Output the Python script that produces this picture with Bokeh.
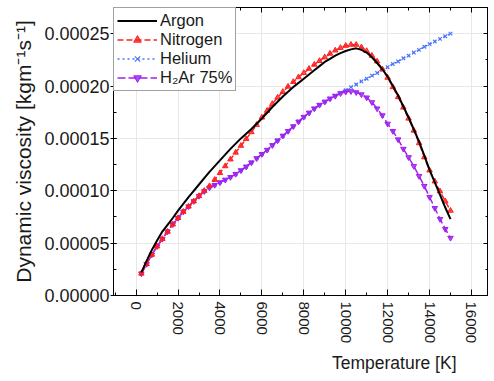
from bokeh.plotting import figure
from bokeh.models import (Range1d, LinearAxis, SingleIntervalTicker, PrintfTickFormatter,
                          Legend, LegendItem, Title, Grid, ColumnDataSource,
                          CustomLabelingPolicy)
from bokeh.embed import file_html
from bokeh.resources import INLINE

# Temperature grid [K]
temperature_k = list(range(250, 15001, 250))

# Dynamic viscosity in units of 1e-5 kg m^-1 s^-1
argon = [2.2, 3.3, 4.35, 5.25, 6.1, 6.75, 7.4, 8.1, 8.75, 9.4,
         10.0, 10.6, 11.2, 11.8, 12.35, 12.9, 13.45, 14.0, 14.5, 15.0,
         15.45, 15.9, 16.4, 16.9, 17.45, 18.0, 18.5, 19.0, 19.45, 19.9,
         20.3, 20.7, 21.1, 21.5, 21.9, 22.3, 22.6, 22.9, 23.15, 23.35,
         23.5, 23.6, 23.45, 23.2, 22.75, 22.2, 21.6, 20.9, 20.0, 19.1,
         18.05, 17.0, 15.85, 14.7, 13.35, 12.0, 10.8, 9.6, 8.4, 7.3]

nitrogen = [2.1, 3.0, 3.9, 4.7, 5.4, 6.1, 6.8, 7.4, 8.0, 8.5,
            9.0, 9.5, 10.0, 10.45, 11.05, 11.7, 12.35, 13.0, 13.65, 14.3,
            14.95, 15.6, 16.3, 17.0, 17.65, 18.3, 18.9, 19.45, 19.95, 20.4,
            20.85, 21.25, 21.65, 22.05, 22.4, 22.75, 23.1, 23.4, 23.65, 23.85,
            23.95, 23.95, 23.7, 23.35, 22.9, 22.35, 21.6, 20.8, 19.9, 18.95,
            17.95, 16.9, 15.75, 14.55, 13.2, 11.95, 10.9, 9.95, 9.0, 8.1]

helium = [2.1, 3.0, 3.9, 4.7, 5.4, 6.1, 6.8, 7.4, 8.0, 8.5,
          9.0, 9.5, 9.95, 10.3, 10.55, 10.8, 11.05, 11.3, 11.6, 11.95,
          12.3, 12.7, 13.1, 13.5, 13.9, 14.35, 14.8, 15.25, 15.7, 16.15,
          16.6, 17.05, 17.45, 17.85, 18.2, 18.5, 18.8, 19.1, 19.35, 19.6,
          19.9, 20.15, 20.45, 20.7, 21.0, 21.25, 21.55, 21.8, 22.1, 22.35,
          22.65, 22.9, 23.2, 23.45, 23.75, 24.0, 24.25, 24.5, 24.75, 25.0]

h2ar_75 = [2.1, 3.0, 3.9, 4.7, 5.4, 6.1, 6.8, 7.4, 8.0, 8.5,
           9.0, 9.5, 9.95, 10.3, 10.55, 10.8, 11.05, 11.3, 11.6, 11.95,
           12.3, 12.7, 13.1, 13.5, 13.9, 14.35, 14.8, 15.25, 15.7, 16.15,
           16.6, 17.05, 17.45, 17.85, 18.2, 18.5, 18.8, 19.05, 19.3, 19.45,
           19.5, 19.4, 19.2, 18.9, 18.45, 17.85, 17.2, 16.4, 15.7, 14.9,
           14.0, 13.2, 12.35, 11.4, 10.45, 9.4, 8.35, 7.3, 6.35, 5.5]

series_names = ["Argon", "Nitrogen", "Helium", "H\u2082Ar 75%"]
x_ticks_step = 2000
y_ticks_step = 0.00005

scale = 1e-5
src = ColumnDataSource(dict(
    t=temperature_k,
    ar=[v * scale for v in argon],
    n2=[v * scale for v in nitrogen],
    he=[v * scale for v in helium],
    h2ar=[v * scale for v in h2ar_75],
))

FONT = "Liberation Sans"
TEXT = "#1a1a1a"

p = figure(width=494, height=381, output_backend="svg", toolbar_location=None,
           x_range=Range1d(-1080, 16765), y_range=Range1d(0, 0.000275),
           x_axis_type=None, y_axis_type=None,
           min_border_left=113, min_border_right=1, min_border_top=7,
           min_border_bottom=86)
p.outline_line_color = "black"
p.outline_line_width = 1
p.background_fill_color = "white"
p.border_fill_color = "white"

xticker = SingleIntervalTicker(interval=x_ticks_step, num_minor_ticks=2)
yticker = SingleIntervalTicker(interval=y_ticks_step, num_minor_ticks=2)

p.add_layout(Grid(dimension=0, ticker=xticker, grid_line_color="#e8e8e8"))
p.add_layout(Grid(dimension=1, ticker=yticker, grid_line_color="#e8e8e8"))

# mirrored axes carry ticks only; this policy drops every label
no_labels = CustomLabelingPolicy(code="for (const i of indices) { indices.unset(i) } return indices")

def style_axis(ax, tick_in, tick_out, minor_in, show_labels=True):
    ax.axis_line_color = "black"
    ax.major_tick_line_color = "black"
    ax.minor_tick_line_color = "black"
    ax.major_tick_in = tick_in
    ax.major_tick_out = tick_out
    ax.minor_tick_in = minor_in
    ax.minor_tick_out = 0
    ax.major_label_text_font = FONT
    ax.major_label_text_color = TEXT
    if not show_labels:
        ax.major_label_policy = no_labels
        ax.major_label_standoff = 0
        ax.major_label_text_font_size = "1px"

x_below = LinearAxis(ticker=xticker)
style_axis(x_below, 6, 0, 3)
x_below.major_label_orientation = "vertical"
x_below.major_label_text_font_size = "15px"
x_below.major_label_standoff = 6
p.add_layout(x_below, "below")

y_left = LinearAxis(ticker=yticker, formatter=PrintfTickFormatter(format="%.5f"))
style_axis(y_left, 3, 3, 3)
y_left.major_label_text_font_size = "18px"
y_left.major_label_standoff = 1
y_left.axis_label = "Dynamic viscosity [kgm\u207b\u00b9s\u207b\u00b9]"
y_left.axis_label_text_font = FONT
y_left.axis_label_text_font_style = "normal"
y_left.axis_label_text_font_size = "21px"
y_left.axis_label_text_color = TEXT
y_left.axis_label_standoff = 6
p.add_layout(y_left, "left")

x_above = LinearAxis(ticker=xticker)
style_axis(x_above, 5, 0, 3, show_labels=False)
p.add_layout(x_above, "above")

y_right = LinearAxis(ticker=yticker)
style_axis(y_right, 4, 0, 2, show_labels=False)
p.add_layout(y_right, "right")

# x-axis title, set towards the right end of the axis
p.add_layout(Title(text="Temperature [K]", align="right", offset=31, standoff=9,
                   text_font=FONT, text_font_style="normal", text_font_size="17.5px",
                   text_color=TEXT), "below")

# Series, drawn bottom to top
he_line = p.line("t", "he", source=src, line_color="#4a74ff", line_width=1.5, line_dash="2 3")
he_pts = p.scatter("t", "he", source=src, marker="x", size=5, line_color="#4a74ff", line_width=1.2)

h2_line = p.line("t", "h2ar", source=src, line_color="#a020f0", line_width=1.5, line_dash="8 3")
h2_pts = p.scatter("t", "h2ar", source=src, marker="inverted_triangle", size=5.5,
                   fill_color="#a020f0", line_color="#a020f0", fill_alpha=0.8)

n2_line = p.line("t", "n2", source=src, line_color="#ff2020", line_width=1.5, line_dash="6 3")
n2_pts = p.scatter("t", "n2", source=src, marker="triangle", size=5.5,
                   fill_color="#ff2020", line_color="#ff2020", fill_alpha=0.8)

ar_line = p.line("t", "ar", source=src, line_color="black", line_width=2)

legend = Legend(items=[
    LegendItem(label=series_names[0], renderers=[ar_line]),
    LegendItem(label=series_names[1], renderers=[n2_line, n2_pts]),
    LegendItem(label=series_names[2], renderers=[he_line, he_pts]),
    LegendItem(label=series_names[3], renderers=[h2_line, h2_pts]),
], location="top_left", margin=0, padding=3, spacing=0,
   glyph_width=40, glyph_height=19, label_height=19, label_standoff=3,
   label_text_font=FONT, label_text_font_size="16.5px", label_text_color=TEXT,
   border_line_color="#444444", border_line_width=1, background_fill_alpha=1.0)
p.add_layout(legend)

open("out.html", "w").write(file_html(p, INLINE))
